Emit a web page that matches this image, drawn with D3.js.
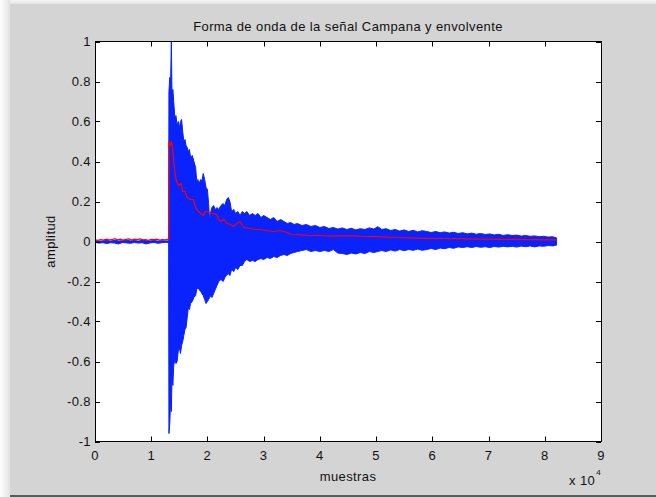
<!DOCTYPE html>
<html>
<head>
<meta charset="utf-8">
<script src="https://cdn.jsdelivr.net/npm/d3@7/dist/d3.min.js"></script>
<style>
  html, body { margin: 0; padding: 0; background: #ffffff; }
  svg { display: block; }
  text { font-family: "Liberation Sans", Arial, Helvetica, sans-serif; fill: #111; letter-spacing: 0.4px; }
</style>
</head>
<body>
<svg id="chart" width="656" height="497"></svg>
<script>
// Bell recording, summarised per stretch of samples:
// sample index, upper peak and lower peak of the signal.
const waveSamples = [
  0, 700, 1400, 2100, 2800, 3500, 4200, 4900, 5600, 6300,
  7000, 7700, 8400, 9100, 9800, 10500, 11200, 11900, 12600, 13100,
  13150, 13300, 13450, 13580, 13700, 13850, 14000, 14200, 14400, 14600,
  14800, 15000, 15200, 15400, 15600, 15800, 16000, 16200, 16400, 16600,
  16800, 17000, 17300, 17600, 17900, 18100, 18300, 18500, 18800, 19000,
  19250, 19500, 19750, 20000, 20200, 20400, 20600, 20800, 21100, 21400,
  21700, 22000, 22400, 22800, 23100, 23400, 23700, 24000, 24300, 24700,
  25000, 25400, 25800, 26200, 26600, 27000, 27500, 28000, 28500, 29000,
  29500, 30000, 30600, 31200, 31800, 32400, 33000, 33600, 34200, 34800,
  35400, 36000, 36800, 37600, 38400, 39200, 40000, 40800, 41600, 42400,
  43200, 44000, 44800, 45600, 46400, 47200, 48000, 48800, 49600, 50300,
  51000, 51800, 52600, 53400, 54200, 55000, 55800, 56600, 57400, 58200,
  59000, 59800, 60600, 61400, 62200, 63000, 63800, 64600, 65400, 66200,
  67000, 67800, 68600, 69400, 70200, 71000, 71800, 72600, 73400, 74200,
  75000, 75800, 76600, 77400, 78200, 79000, 79800, 80600, 81400, 82100
];
const waveUpper = [
  0.004, 0.002, 0.003, 0.005, 0.002, 0.006, 0.003, 0.004, 0.007, 0.003,
  0.005, 0.002, 0.006, 0.004, 0.003, 0.005, 0.002, 0.004, 0.003, 0.003,
  0.75, 0.82, 0.80, 1.00, 0.72, 0.76, 0.70, 0.62, 0.63, 0.58,
  0.60, 0.57, 0.60, 0.61, 0.55, 0.50, 0.51, 0.48, 0.47, 0.45,
  0.46, 0.42, 0.43, 0.40, 0.37, 0.30, 0.31, 0.29, 0.31, 0.30,
  0.34, 0.31, 0.27, 0.26, 0.19, 0.10, 0.15, 0.17, 0.18, 0.16,
  0.17, 0.16, 0.18, 0.19, 0.18, 0.21, 0.22, 0.20, 0.15, 0.16,
  0.14, 0.15, 0.13, 0.15, 0.14, 0.15, 0.13, 0.14, 0.13, 0.14,
  0.12, 0.13, 0.12, 0.11, 0.12, 0.10, 0.11, 0.10, 0.09, 0.095,
  0.085, 0.09, 0.08, 0.085, 0.075, 0.08, 0.07, 0.075, 0.065, 0.07,
  0.062, 0.068, 0.06, 0.066, 0.058, 0.064, 0.06, 0.068, 0.062, 0.074,
  0.06, 0.064, 0.055, 0.06, 0.052, 0.058, 0.05, 0.056, 0.048, 0.054,
  0.05, 0.045, 0.05, 0.044, 0.048, 0.042, 0.046, 0.04, 0.044, 0.038,
  0.042, 0.036, 0.04, 0.035, 0.038, 0.033, 0.036, 0.03, 0.034, 0.03,
  0.032, 0.027, 0.03, 0.026, 0.028, 0.024, 0.026, 0.022, 0.024, 0.018
];
const waveLower = [
  -0.004, -0.008, -0.006, -0.010, -0.006, -0.008, -0.012, -0.005, -0.007, -0.009,
  -0.005, -0.008, -0.006, -0.012, -0.007, -0.005, -0.009, -0.006, -0.004, -0.005,
  -0.96, -0.91, -0.79, -0.85, -0.66, -0.72, -0.62, -0.59, -0.61, -0.60,
  -0.55, -0.53, -0.56, -0.52, -0.50, -0.47, -0.44, -0.43, -0.38, -0.33,
  -0.34, -0.31, -0.30, -0.28, -0.27, -0.24, -0.23, -0.24, -0.25, -0.26,
  -0.27, -0.29, -0.31, -0.30, -0.29, -0.28, -0.27, -0.28, -0.26, -0.24,
  -0.22, -0.20, -0.19, -0.20, -0.18, -0.17, -0.16, -0.17, -0.14, -0.15,
  -0.13, -0.14, -0.12, -0.12, -0.10, -0.09, -0.10, -0.095, -0.10, -0.09,
  -0.085, -0.09, -0.08, -0.085, -0.075, -0.08, -0.07, -0.065, -0.07, -0.06,
  -0.055, -0.05, -0.045, -0.04, -0.05, -0.045, -0.05, -0.045, -0.05, -0.04,
  -0.058, -0.06, -0.065, -0.058, -0.062, -0.055, -0.06, -0.05, -0.055, -0.05,
  -0.045, -0.05, -0.042, -0.048, -0.04, -0.046, -0.04, -0.044, -0.038, -0.044,
  -0.04, -0.035, -0.04, -0.033, -0.036, -0.03, -0.034, -0.027, -0.03, -0.026,
  -0.03, -0.025, -0.029, -0.026, -0.03, -0.025, -0.028, -0.024, -0.027, -0.024,
  -0.028, -0.023, -0.026, -0.022, -0.027, -0.022, -0.024, -0.02, -0.022, -0.018
];

// Envelope follower output.
const envSamples = [
  0, 500, 1000, 1500, 2000, 2500, 3000, 3500, 4000, 4500, 5000, 5500, 6000, 6500,
  7000, 7500, 8000, 8500, 9000, 9500, 10000, 10500, 11000, 11500, 12000, 12500,
  13000, 13150, 13150, 13400, 13600, 13800, 14000, 14300, 14500, 14900, 15300,
  15600, 16000, 16400, 17000, 17500, 17900, 18400, 18800, 19300, 19600, 20000,
  20600, 21200, 21700, 22000, 22400, 22900, 23500, 24100, 24600, 25300, 25800,
  26500, 27600, 28500, 29400, 30500, 31700, 32900, 34100, 35000, 36500, 38000,
  40000, 42000, 43500, 46000, 48000, 50000, 52000, 54000, 56000, 58000, 60000,
  62000, 64000, 66000, 68000, 70000, 72000, 74000, 76000, 78000, 80000, 82100
];
const envValues = [
  0.008, 0.006, 0.010, 0.007, 0.012, 0.008, 0.009, 0.014, 0.008, 0.012, 0.007, 0.011, 0.013, 0.007,
  0.012, 0.009, 0.013, 0.008, 0.010, 0.006, 0.011, 0.009, 0.012, 0.007, 0.010, 0.008,
  0.012, 0.012, 0.50, 0.48, 0.50, 0.47, 0.40, 0.33, 0.30, 0.28, 0.29,
  0.25, 0.25, 0.22, 0.21, 0.21, 0.17, 0.15, 0.14, 0.13, 0.15, 0.15,
  0.14, 0.14, 0.13, 0.11, 0.10, 0.11, 0.09, 0.085, 0.075, 0.09, 0.10,
  0.07, 0.065, 0.06, 0.06, 0.055, 0.05, 0.055, 0.045, 0.035, 0.033, 0.03,
  0.03, 0.027, 0.028, 0.028, 0.025, 0.024, 0.022, 0.020, 0.018, 0.016, 0.016,
  0.015, 0.014, 0.013, 0.012, 0.012, 0.011, 0.011, 0.009, 0.009, 0.008, 0.008
];

const xTicks = [0, 1, 2, 3, 4, 5, 6, 7, 8, 9];           // in units of 10^4 samples
const yTicks = [-1, -0.8, -0.6, -0.4, -0.2, 0, 0.2, 0.4, 0.6, 0.8, 1];

const titleText = "Forma de onda de la señal Campana y envolvente";
const xLabelText = "muestras";
const yLabelText = "amplitud";

const svg = d3.select("#chart");
const W = 656, H = 497;

// Window frame: light shadow on the left/top, grey figure panel
const defs = svg.append("defs");
const gl = defs.append("linearGradient").attr("id", "shadeLeft").attr("x1", 0).attr("x2", 1).attr("y1", 0).attr("y2", 0);
gl.append("stop").attr("offset", "0%").attr("stop-color", "#ffffff");
gl.append("stop").attr("offset", "100%").attr("stop-color", "#e2e2e2");
const gt = defs.append("linearGradient").attr("id", "shadeTop").attr("x1", 0).attr("x2", 0).attr("y1", 0).attr("y2", 1);
gt.append("stop").attr("offset", "0%").attr("stop-color", "#f6f6f6");
gt.append("stop").attr("offset", "100%").attr("stop-color", "#e4e4e4");

svg.append("rect").attr("x", 0).attr("y", 0).attr("width", W).attr("height", H).attr("fill", "#ffffff");
svg.append("rect").attr("x", 0).attr("y", 0).attr("width", 10).attr("height", H).attr("fill", "url(#shadeLeft)");
svg.append("rect").attr("x", 10).attr("y", 0).attr("width", W - 10).attr("height", 4).attr("fill", "url(#shadeTop)");
svg.append("rect").attr("x", 10).attr("y", 4).attr("width", W - 10).attr("height", 491).attr("fill", "#d4d4d4");
svg.append("rect").attr("x", 10).attr("y", 495).attr("width", W - 10).attr("height", 2).attr("fill", "#5a5a5a");

// Plot area
const plot = { left: 95, right: 601, top: 41.5, bottom: 441.5 };

const x = d3.scaleLinear().domain([0, 90000]).range([plot.left, plot.right]);
const y = d3.scaleLinear().domain([-1, 1]).range([plot.bottom, plot.top]);

svg.append("rect")
  .attr("x", plot.left).attr("y", plot.top)
  .attr("width", plot.right - plot.left).attr("height", plot.bottom - plot.top)
  .attr("fill", "#ffffff");

const clip = defs.append("clipPath").attr("id", "plotClip");
clip.append("rect")
  .attr("x", plot.left).attr("y", plot.top)
  .attr("width", plot.right - plot.left).attr("height", plot.bottom - plot.top);

const wave = waveSamples.map((s, i) => ({ s, hi: waveUpper[i], lo: waveLower[i] }));
const env = envSamples.map((s, i) => ({ s, v: envValues[i] }));

const g = svg.append("g").attr("clip-path", "url(#plotClip)");

const waveArea = d3.area()
  .x(d => x(d.s))
  .y0(d => y(d.lo))
  .y1(d => y(d.hi));

g.append("path")
  .datum(wave)
  .attr("d", waveArea)
  .attr("fill", "#0a22fb")
  .attr("stroke", "#0a22fb")
  .attr("stroke-width", 1)
  .attr("stroke-linejoin", "miter");

const envLine = d3.line()
  .x(d => x(d.s))
  .y(d => y(d.v));

g.append("path")
  .datum(env)
  .attr("d", envLine)
  .attr("fill", "none")
  .attr("stroke", "#ff0000")
  .attr("stroke-width", 1.2);

// Axes box with inward ticks on all four sides
const tickLen = 5;
const axisG = svg.append("g").attr("stroke", "#000").attr("stroke-width", 1).attr("fill", "none");
axisG.append("rect")
  .attr("x", plot.left + 0.5).attr("y", plot.top)
  .attr("width", plot.right - plot.left).attr("height", plot.bottom - plot.top);

xTicks.forEach(t => {
  const px = Math.round(x(t * 1e4)) + 0.5;
  axisG.append("line").attr("x1", px).attr("x2", px).attr("y1", plot.bottom).attr("y2", plot.bottom - tickLen);
  axisG.append("line").attr("x1", px).attr("x2", px).attr("y1", plot.top).attr("y2", plot.top + tickLen);
});
yTicks.forEach(t => {
  const py = Math.round(y(t)) + 0.5;
  axisG.append("line").attr("x1", plot.left).attr("x2", plot.left + tickLen).attr("y1", py).attr("y2", py);
  axisG.append("line").attr("x1", plot.right).attr("x2", plot.right - tickLen).attr("y1", py).attr("y2", py);
});

// Tick labels
const fs = 13;
svg.append("g").selectAll("text").data(xTicks).join("text")
  .attr("x", d => x(d * 1e4))
  .attr("y", plot.bottom + 18.5)
  .attr("text-anchor", "middle")
  .attr("font-size", fs)
  .text(d => String(d));

svg.append("g").selectAll("text").data(yTicks).join("text")
  .attr("x", plot.left - 4)
  .attr("y", d => y(d) + 4.5)
  .attr("text-anchor", "end")
  .attr("font-size", fs)
  .text(d => String(Math.round(d * 10) / 10));

// Exponent for the x axis
const expG = svg.append("text")
  .attr("x", 569)
  .attr("y", 485)
  .attr("font-size", fs);
expG.append("tspan").text("x 10");
expG.append("tspan").attr("dy", -10).attr("dx", 1).attr("font-size", 8).text("4");

// Title and axis labels
svg.append("text")
  .attr("x", (plot.left + plot.right) / 2)
  .attr("y", 31)
  .attr("text-anchor", "middle")
  .attr("font-size", fs)
  .text(titleText);

svg.append("text")
  .attr("x", (plot.left + plot.right) / 2)
  .attr("y", 481)
  .attr("text-anchor", "middle")
  .attr("font-size", fs)
  .text(xLabelText);

svg.append("text")
  .attr("transform", `translate(55, ${(plot.top + plot.bottom) / 2}) rotate(-90)`)
  .attr("text-anchor", "middle")
  .attr("font-size", fs)
  .text(yLabelText);
</script>
</body>
</html>
